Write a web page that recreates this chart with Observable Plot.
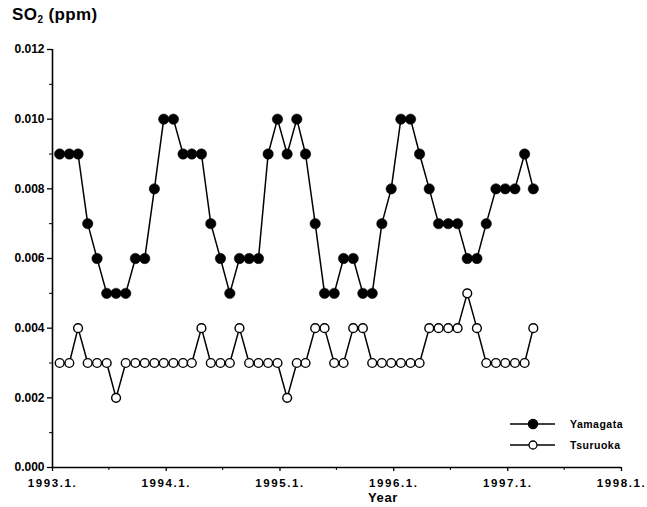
<!DOCTYPE html>
<html><head><meta charset="utf-8">
<script src="https://cdn.jsdelivr.net/npm/d3@7"></script>
<script src="https://cdn.jsdelivr.net/npm/@observablehq/plot@0.6"></script>
<style>
body{margin:0;background:#fff;font-family:"Liberation Sans",Arial,Helvetica,sans-serif;}
#wrap{position:relative;width:647px;height:507px;overflow:hidden;}
#title{position:absolute;left:12px;top:5px;font-weight:bold;font-size:17px;line-height:1.2;color:#000;letter-spacing:0.4px;}
#title sub{font-size:10px;vertical-align:-3px;}
#xlabel{position:absolute;left:368px;top:491px;font-weight:bold;font-size:13px;line-height:1;letter-spacing:0.6px;}
#legend{position:absolute;left:505px;top:412px;}
#chart svg{display:block;}
#chart svg g[aria-label="x-axis tick label"] text{letter-spacing:1.6px;}
</style></head><body>
<div id="wrap">
<div id="chart"></div>
<div id="title">SO<sub>2</sub> (ppm)</div>
<div id="xlabel">Year</div>
<div id="legend"></div>
</div>
<script>
// monthly means, Jan 1993 – Mar 1997 (ppm)
const yamagata = [0.009,0.009,0.009,0.007,0.006,0.005,0.005,0.005,0.006,0.006,0.008,0.010,
                  0.010,0.009,0.009,0.009,0.007,0.006,0.005,0.006,0.006,0.006,0.009,0.010,
                  0.009,0.010,0.009,0.007,0.005,0.005,0.006,0.006,0.005,0.005,0.007,0.008,
                  0.010,0.010,0.009,0.008,0.007,0.007,0.007,0.006,0.006,0.007,0.008,0.008,
                  0.008,0.009,0.008];
const tsuruoka = [0.003,0.003,0.004,0.003,0.003,0.003,0.002,0.003,0.003,0.003,0.003,0.003,
                  0.003,0.003,0.003,0.004,0.003,0.003,0.003,0.004,0.003,0.003,0.003,0.003,
                  0.002,0.003,0.003,0.004,0.004,0.003,0.003,0.004,0.004,0.003,0.003,0.003,
                  0.003,0.003,0.003,0.004,0.004,0.004,0.004,0.005,0.004,0.003,0.003,0.003,
                  0.003,0.003,0.004];
const seriesNames = ["Yamagata", "Tsuruoka"];
const startYear = 1993, startMonth = 0;
const yearTicks = [1993, 1994, 1995, 1996, 1997, 1998];
const halfYearTicks = [1993, 1994, 1995, 1996, 1997];
const yTicks = [0, 0.002, 0.004, 0.006, 0.008, 0.010, 0.012];
const yMinorTicks = [0.001, 0.003, 0.005, 0.007, 0.009, 0.011];

const monthDate = i => new Date(Date.UTC(startYear, startMonth + i, 24));
const rows = [];
yamagata.forEach((v, i) => rows.push({series: seriesNames[0], date: monthDate(i), value: v}));
tsuruoka.forEach((v, i) => rows.push({series: seriesNames[1], date: monthDate(i), value: v}));
const yam = rows.filter(d => d.series === seriesNames[0]);
const tsu = rows.filter(d => d.series === seriesNames[1]);

const xMajor = yearTicks.map(y => new Date(Date.UTC(y, 0, 1)));
const xMinor = halfYearTicks.map(y => new Date(Date.UTC(y, 6, 1)));

const chart = Plot.plot({
  width: 647, height: 507,
  marginLeft: 52, marginRight: 26, marginTop: 49, marginBottom: 40,
  style: {fontFamily: "'Liberation Sans', Arial, sans-serif", background: "#fff", color: "#000"},
  x: {type: "utc", domain: [xMajor[0], xMajor[xMajor.length - 1]]},
  y: {domain: [0, 0.012]},
  marks: [
    Plot.ruleY([0], {stroke: "#000", strokeWidth: 1.6}),
    Plot.ruleX([xMajor[0]], {stroke: "#000", strokeWidth: 1.6}),
    Plot.axisY({ticks: yTicks, tickFormat: d => d.toFixed(3), tickSize: 5, tickPadding: 3,
      fontSize: 12, fontWeight: "bold", label: null, strokeWidth: 1.3}),
    Plot.axisY({ticks: yMinorTicks, tickSize: 3, text: null, label: null, strokeWidth: 1}),
    Plot.axisX({ticks: xMajor, tickFormat: d => `${d.getUTCFullYear()}.1.`, tickSize: 4, tickPadding: 7,
      fontSize: 11.5, fontWeight: "bold", label: null, strokeWidth: 1.3}),
    Plot.axisX({ticks: xMinor, tickSize: 3, text: null, label: null}),
    Plot.line(yam, {x: "date", y: "value", stroke: "#000", strokeWidth: 1.5}),
    Plot.line(tsu, {x: "date", y: "value", stroke: "#000", strokeWidth: 1.5}),
    Plot.dot(yam, {x: "date", y: "value", r: 5.2, fill: "#000", stroke: "#000", strokeWidth: 0.5}),
    Plot.dot(tsu, {x: "date", y: "value", r: 4.4, fill: "#fff", stroke: "#000", strokeWidth: 1.4})
  ]
});
document.getElementById("chart").append(chart);

// legend
const lg = d3.select("#legend").append("svg").attr("width", 140).attr("height", 46);
seriesNames.forEach((name, i) => {
  const g = lg.append("g").attr("transform", `translate(0,${12 + i * 21})`);
  g.append("line").attr("x1", 5).attr("x2", 50).attr("y1", 0).attr("y2", 0)
    .attr("stroke", "#000").attr("stroke-width", 1.4);
  g.append("circle").attr("cx", 28).attr("cy", 0).attr("r", i === 0 ? 4.6 : 4)
    .attr("fill", i === 0 ? "#000" : "#fff").attr("stroke", "#000").attr("stroke-width", 1.3);
  g.append("text").attr("x", 65).attr("y", 0).attr("dy", "0.35em")
    .attr("font-size", 10.5).attr("font-weight", "bold").attr("letter-spacing", "0.5px")
    .attr("font-family", "'Liberation Sans', Arial, sans-serif").text(name);
});
</script>
</body></html>
